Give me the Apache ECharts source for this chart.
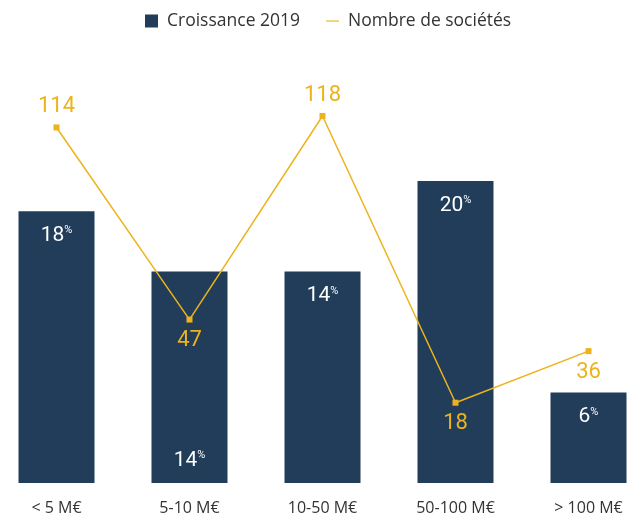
<!DOCTYPE html>
<html><head><meta charset="utf-8">
<script src="https://cdn.jsdelivr.net/npm/echarts@6/dist/echarts.min.js"></script>
<style>html,body{margin:0;padding:0;background:#fff;overflow:hidden;width:629px;height:519px;position:relative}#c{position:absolute;left:-10px;top:0;width:665px;height:519px}</style>
</head><body><div id="c"></div>
<script>
const categories = ['< 5 M€', '5-10 M€', '10-50 M€', '50-100 M€', '> 100 M€'];
const growth = [18, 14, 14, 20, 6];
const companies = [114, 47, 118, 18, 36];
const lineLabelPos = ['top', 'bottom', 'top', 'bottom', 'bottom'];
const barLabelPos = ['insideTop', 'insideBottom', 'insideTop', 'insideTop', 'insideTop'];

const NAVY = '#223d5a', GOLD = '#ecb31c';
const numFont = "Roboto, sans-serif";
const txtFont = "'Open Sans', sans-serif";

const chart = echarts.init(document.getElementById('c'), null, {renderer: 'canvas'});
chart.setOption({
  animation: false,
  legend: {
    top: 7, left: 150, itemGap: 26, itemWidth: 13, itemHeight: 13,
    textStyle: {fontFamily: txtFont, fontSize: 17.5, color: '#333', padding: [0, 0, 0, 4]},
    data: [
      {name: 'Croissance 2019', icon: 'rect'},
      {name: 'Nombre de sociétés', icon: 'path://M0,6H14V7.2H0Z'}
    ]
  },
  grid: {left: 0, right: 0, top: 30, bottom: 36},
  xAxis: {
    type: 'category', data: categories,
    axisTick: {show: false},
    axisLine: {show: false},
    axisLabel: {fontFamily: txtFont, fontSize: 16, color: '#333', margin: 17}
  },
  yAxis: [
    {type: 'value', min: 0, max: 30, show: false, splitLine: {show: false}},
    {type: 'value', min: -10, max: 148, show: false, splitLine: {show: false}}
  ],
  series: [
    {
      name: 'Croissance 2019', type: 'bar', barWidth: 76, yAxisIndex: 0,
      itemStyle: {color: NAVY},
      data: growth.map((v, i) => ({
        value: v,
        label: {position: barLabelPos[i], distance: i === 1 ? 12 : 14}
      })),
      label: {
        show: true,
        formatter: p => '{a|' + p.value + '}{b|%}',
        rich: {
          a: {fontFamily: numFont, fontSize: 21, color: '#fff'},
          b: {fontFamily: numFont, fontSize: 11, color: '#fff', verticalAlign: 'top', padding: [0, 0, 9, 0]}
        }
      }
    },
    {
      name: 'Nombre de sociétés', type: 'line', yAxisIndex: 1,
      symbol: 'rect', symbolSize: 6,
      lineStyle: {color: GOLD, width: 1.5},
      itemStyle: {color: GOLD},
      data: companies.map((v, i) => ({value: v, label: {position: lineLabelPos[i]}})),
      label: {show: true, distance: 7, fontFamily: numFont, fontSize: 22, color: GOLD}
    }
  ]
});
</script></body></html>
